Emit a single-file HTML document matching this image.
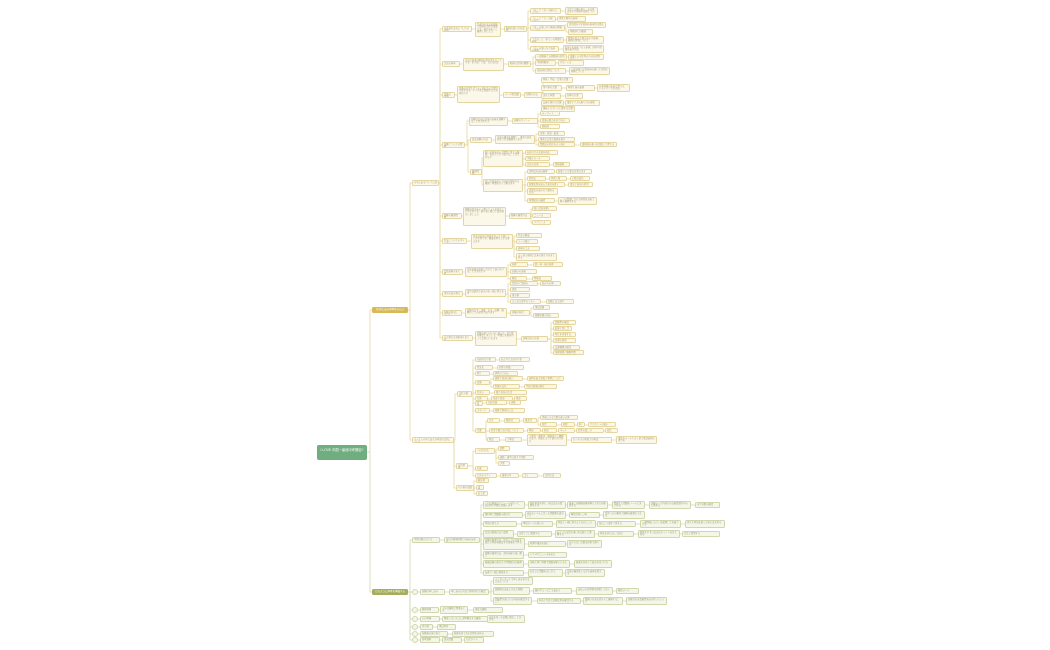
<!DOCTYPE html>
<html><head><meta charset="utf-8">
<style>
html,body{margin:0;padding:0;background:#fff;}
#w{position:relative;width:1050px;height:650px;overflow:hidden;background:#fff;font-family:"Liberation Sans","Noto Sans CJK JP",sans-serif;}
#w svg{position:absolute;left:0;top:0;}
.n{position:absolute;box-sizing:border-box;border:1px solid #e4d69e;background:#fbf8ea;border-radius:1.5px;font-size:2.3px;line-height:2.6px;color:#a49a78;overflow:hidden;padding:0.6px 1px;white-space:normal;word-break:break-all;}
.g{border-color:#d0d8ab;background:#f4f6ea;color:#98a078;}
.c{position:absolute;box-sizing:border-box;width:6px;height:6px;border:1px solid #d0d8ab;background:#f4f6ea;border-radius:50%;}
.root{position:absolute;left:317px;top:445px;width:50px;height:15px;background:#70ad7f;border-radius:2px;color:#fff;font-size:3.3px;line-height:4px;text-align:center;padding-top:3px;box-sizing:border-box;}
.b1{position:absolute;left:372px;top:307px;width:36px;height:6px;background:#d8b95a;border-radius:1.5px;color:#fff;font-size:2.5px;line-height:6px;text-align:center;}
.b2{position:absolute;left:372px;top:589px;width:36px;height:6px;background:#a6ad5f;border-radius:1.5px;color:#fff;font-size:2.5px;line-height:6px;text-align:center;}
</style></head><body><div id="w">
<svg id="s" width="1050" height="650"></svg>
<div class="root">I LOVE 中国一最适中考题目?</div>
<div class="b1">Iの中にある中考をみたい</div>
<div class="b2">どのように中考を準備する</div>

<!-- yellow -->
<div class="n" style="left:412px;top:180px;width:27px;height:6px">の中にあるベトナム語</div>
<div class="n" style="left:412px;top:437px;width:42px;height:6px">ベトナムの中にある日本語の文化について</div>
<div class="n" style="left:442px;top:26px;width:30px;height:6px">日本語の文法についての説明</div>
<div class="n" style="left:442px;top:61px;width:18px;height:6px">文法の基本</div>
<div class="n" style="left:442px;top:92px;width:13px;height:6px">語彙の説明</div>
<div class="n" style="left:442px;top:142px;width:23px;height:6px">読解についての問題</div>
<div class="n" style="left:442px;top:213px;width:20px;height:6px">聴解の練習問題</div>
<div class="n" style="left:442px;top:238px;width:25px;height:6px">作文についてのポイント</div>
<div class="n" style="left:442px;top:269px;width:21px;height:6px">会話表現のまとめ</div>
<div class="n" style="left:442px;top:291px;width:21px;height:6px">漢字の読み書き</div>
<div class="n" style="left:442px;top:310px;width:20px;height:6px">試験の形式について</div>
<div class="n" style="left:442px;top:335px;width:31px;height:6px">その他の注意事項とまとめ</div>

<div class="n" style="left:475px;top:22px;width:26px;height:15px">日本語の文法は助詞と動詞の活用が重要です。例文を使って練習しましょう</div>
<div class="n" style="left:504px;top:26px;width:23px;height:6px">助詞の使い方の説明</div>
<div class="n" style="left:530px;top:8px;width:31px;height:6px">「は」と「が」の違いについて</div>
<div class="n" style="left:530px;top:16px;width:26px;height:6px">「に」と「で」の使い分け</div>
<div class="n" style="left:530px;top:25px;width:35px;height:6px">「を」の使い方と動詞の関係について</div>
<div class="n" style="left:530px;top:37px;width:34px;height:6px">「から」と「まで」の時間の表現</div>
<div class="n" style="left:530px;top:46px;width:29px;height:6px">「の」の使い方と名詞の修飾</div>
<div class="n" style="left:565px;top:7px;width:33px;height:8px">主語と主題の違い、文の焦点を示す助詞の役割について</div>
<div class="n" style="left:557px;top:16px;width:29px;height:6px">場所と動作の表現</div>
<div class="n" style="left:567px;top:22px;width:39px;height:6px">目的語を示す助詞の基本的な用法</div>
<div class="n" style="left:568px;top:29px;width:25px;height:6px">他動詞と自動詞</div>
<div class="n" style="left:566px;top:36px;width:38px;height:8px">時間の起点と終点を示す表現、範囲の説明について</div>
<div class="n" style="left:563px;top:45px;width:41px;height:8px">名詞と名詞をつなぐ表現、所有や所属を表す用法</div>

<div class="n" style="left:463px;top:58px;width:41px;height:13px">文法の基本は動詞の形を覚えることです。ます形、て形、ない形など</div>
<div class="n" style="left:508px;top:61px;width:23px;height:6px">動詞の活用の種類</div>
<div class="n" style="left:535px;top:54px;width:32px;height:6px">一段動詞と五段動詞の区別</div>
<div class="n" style="left:535px;top:60px;width:21px;height:6px">不規則動詞</div>
<div class="n" style="left:535px;top:68px;width:31px;height:6px">形容詞の活用について</div>
<div class="n" style="left:568px;top:54px;width:36px;height:6px">語尾による区別の方法を説明する</div>
<div class="n" style="left:558px;top:60px;width:26px;height:6px">する・くる</div>
<div class="n" style="left:569px;top:67px;width:41px;height:8px">い形容詞とな形容詞の違いと活用の規則について</div>

<div class="n" style="left:457px;top:86px;width:43px;height:17px">語彙は日常生活でよく使われる言葉から覚えます。テーマ別に整理すると効率的です</div>
<div class="n" style="left:503px;top:92px;width:18px;height:6px">テーマ別語彙</div>
<div class="n" style="left:524px;top:92px;width:19px;height:6px">分類の方法</div>
<div class="n" style="left:541px;top:77px;width:32px;height:6px">家族・学校・仕事の言葉</div>
<div class="n" style="left:541px;top:85px;width:21px;height:6px">食べ物の言葉</div>
<div class="n" style="left:541px;top:93px;width:20px;height:6px">天気と季節</div>
<div class="n" style="left:541px;top:100px;width:23px;height:6px">交通と旅行の言葉</div>
<div class="n" style="left:541px;top:106px;width:34px;height:6px">趣味とスポーツに関する言葉</div>
<div class="n" style="left:566px;top:85px;width:29px;height:6px">料理と味の表現</div>
<div class="n" style="left:597px;top:84px;width:33px;height:8px">日本料理の名前と食べ方、レストランでの会話</div>
<div class="n" style="left:565px;top:93px;width:18px;height:6px">四季の行事</div>
<div class="n" style="left:565px;top:100px;width:35px;height:6px">電車とバスの乗り方の表現</div>

<div class="n" style="left:469px;top:117px;width:39px;height:9px">読解は文章の全体の意味を理解することが大切です</div>
<div class="n" style="left:470px;top:137px;width:22px;height:6px">長文読解の方法</div>
<div class="n" style="left:470px;top:169px;width:12px;height:6px">練習問題</div>
<div class="n" style="left:512px;top:118px;width:26px;height:6px">読解のポイント</div>
<div class="n" style="left:540px;top:111px;width:20px;height:5px">キーワード</div>
<div class="n" style="left:540px;top:118px;width:30px;height:5px">段落の要点をまとめる</div>
<div class="n" style="left:540px;top:124px;width:20px;height:5px">接続詞</div>
<div class="n" style="left:495px;top:135px;width:40px;height:9px">文章の構成を理解し、筆者の意見を見つける練習をします</div>
<div class="n" style="left:538px;top:131px;width:27px;height:5px">序論・本論・結論</div>
<div class="n" style="left:538px;top:137px;width:37px;height:5px">筆者の主張と根拠を探す</div>
<div class="n" style="left:538px;top:142px;width:37px;height:5px">問題文の指示をよく読む</div>
<div class="n" style="left:580px;top:142px;width:37px;height:5px">選択肢の違いを比較して考える</div>
<div class="n" style="left:483px;top:150px;width:40px;height:17px">短い文章を読んで質問に答える練習。毎日少しずつ続けることが大切です</div>
<div class="n" style="left:483px;top:179px;width:40px;height:13px">長い文章を読んで内容を要約する練習。時間を計って解きます</div>
<div class="n" style="left:525px;top:150px;width:33px;height:5px">お知らせの文章を読む</div>
<div class="n" style="left:525px;top:156px;width:25px;height:5px">手紙とメール</div>
<div class="n" style="left:525px;top:162px;width:25px;height:5px">広告の文章</div>
<div class="n" style="left:553px;top:162px;width:17px;height:5px">情報検索</div>
<div class="n" style="left:527px;top:169px;width:28px;height:5px">説明文を読む練習</div>
<div class="n" style="left:527px;top:176px;width:19px;height:5px">物語文</div>
<div class="n" style="left:527px;top:182px;width:38px;height:5px">新聞記事を読んで意見を書く</div>
<div class="n" style="left:527px;top:188px;width:31px;height:7px">評論文の読み方と要約の方法</div>
<div class="n" style="left:527px;top:198px;width:28px;height:5px">時間配分の練習</div>
<div class="n" style="left:556px;top:169px;width:36px;height:5px">段落ごとの要点を書き出す</div>
<div class="n" style="left:549px;top:176px;width:18px;height:5px">登場人物</div>
<div class="n" style="left:570px;top:176px;width:20px;height:5px">心情の変化</div>
<div class="n" style="left:568px;top:182px;width:25px;height:5px">事実と意見の区別</div>
<div class="n" style="left:558px;top:197px;width:39px;height:8px">一つの問題にかける時間を決めて解く練習をする</div>

<div class="n" style="left:463px;top:207px;width:43px;height:19px">聴解は音声をよく聞いてメモを取ることが大切です。繰り返し聞いて耳を慣らしましょう</div>
<div class="n" style="left:509px;top:213px;width:22px;height:6px">聴解の練習方法</div>
<div class="n" style="left:532px;top:206px;width:25px;height:5px">短い会話を聞く</div>
<div class="n" style="left:532px;top:213px;width:19px;height:5px">ニュース</div>
<div class="n" style="left:532px;top:220px;width:19px;height:5px">アナウンス</div>

<div class="n" style="left:471px;top:234px;width:42px;height:15px">作文は自分の意見をはっきり書くことが大切です。構成を考えてから書きます</div>
<div class="n" style="left:516px;top:233px;width:26px;height:5px">作文の構成</div>
<div class="n" style="left:516px;top:239px;width:22px;height:5px">テーマ選び</div>
<div class="n" style="left:516px;top:246px;width:24px;height:5px">表現の工夫</div>
<div class="n" style="left:516px;top:253px;width:41px;height:8px">よく使う表現と文末の書き方をまとめる</div>

<div class="n" style="left:465px;top:267px;width:42px;height:10px">会話表現は場面に合わせて使い分けることが大切です</div>
<div class="n" style="left:510px;top:262px;width:18px;height:5px">挨拶</div>
<div class="n" style="left:510px;top:269px;width:27px;height:5px">お願いの表現</div>
<div class="n" style="left:510px;top:276px;width:17px;height:5px">敬語</div>
<div class="n" style="left:533px;top:262px;width:30px;height:5px">朝・昼・夜の挨拶</div>
<div class="n" style="left:532px;top:276px;width:20px;height:5px">尊敬語</div>

<div class="n" style="left:465px;top:289px;width:41px;height:8px">漢字は部首と読み方を一緒に覚えます</div>
<div class="n" style="left:510px;top:281px;width:28px;height:5px">音読みと訓読み</div>
<div class="n" style="left:510px;top:287px;width:20px;height:5px">部首</div>
<div class="n" style="left:510px;top:293px;width:20px;height:5px">書き順</div>
<div class="n" style="left:510px;top:299px;width:31px;height:5px">よく出る漢字のリスト</div>
<div class="n" style="left:540px;top:281px;width:21px;height:5px">読み方の例</div>
<div class="n" style="left:546px;top:299px;width:28px;height:5px">試験に出る漢字</div>

<div class="n" style="left:465px;top:308px;width:42px;height:10px">試験は文字・語彙、文法・読解、聴解の三つの部分があります</div>
<div class="n" style="left:510px;top:310px;width:20px;height:6px">試験の科目</div>
<div class="n" style="left:533px;top:305px;width:17px;height:5px">筆記試験</div>
<div class="n" style="left:533px;top:313px;width:26px;height:5px">聴解試験の流れ</div>

<div class="n" style="left:475px;top:331px;width:42px;height:15px">試験の前には十分に休んで、持ち物を確認しましょう。時間に余裕を持って会場に行きます</div>
<div class="n" style="left:521px;top:336px;width:27px;height:6px">試験当日の注意</div>
<div class="n" style="left:553px;top:320px;width:23px;height:5px">受験票の確認</div>
<div class="n" style="left:553px;top:326px;width:19px;height:5px">鉛筆と消しゴム</div>
<div class="n" style="left:553px;top:332px;width:23px;height:5px">時計を持参する</div>
<div class="n" style="left:553px;top:338px;width:23px;height:5px">会場の場所</div>
<div class="n" style="left:553px;top:345px;width:27px;height:5px">交通機関の確認</div>
<div class="n" style="left:553px;top:350px;width:31px;height:5px">体調管理と睡眠時間</div>

<div class="n" style="left:457px;top:391px;width:15px;height:6px">文化の紹介</div>
<div class="n" style="left:456px;top:463px;width:12px;height:6px">生活習慣</div>
<div class="n" style="left:456px;top:485px;width:18px;height:6px">その他の話題</div>
<div class="n" style="left:475px;top:357px;width:21px;height:5px">伝統的な行事</div>
<div class="n" style="left:475px;top:365px;width:18px;height:5px">食文化</div>
<div class="n" style="left:475px;top:371px;width:15px;height:5px">祭り</div>
<div class="n" style="left:475px;top:380px;width:15px;height:5px">衣服</div>
<div class="n" style="left:475px;top:390px;width:15px;height:5px">住まい</div>
<div class="n" style="left:475px;top:396px;width:13px;height:5px">芸術</div>
<div class="n" style="left:475px;top:401px;width:8px;height:5px">音楽</div>
<div class="n" style="left:475px;top:408px;width:15px;height:5px">スポーツ</div>
<div class="n" style="left:475px;top:428px;width:11px;height:5px">言葉</div>
<div class="n" style="left:499px;top:357px;width:31px;height:5px">お正月とお盆の行事</div>
<div class="n" style="left:497px;top:365px;width:27px;height:5px">和食の特徴</div>
<div class="n" style="left:493px;top:371px;width:25px;height:5px">夏祭りと花火</div>
<div class="n" style="left:493px;top:376px;width:30px;height:5px">着物と浴衣の違い</div>
<div class="n" style="left:493px;top:384px;width:27px;height:5px">制服の文化</div>
<div class="n" style="left:527px;top:376px;width:37px;height:5px">着物を着る場面と季節について</div>
<div class="n" style="left:524px;top:384px;width:33px;height:5px">学校の制服の歴史</div>
<div class="n" style="left:494px;top:390px;width:33px;height:5px">畳と和室の生活</div>
<div class="n" style="left:491px;top:396px;width:22px;height:5px">茶道と華道</div>
<div class="n" style="left:514px;top:396px;width:13px;height:5px">書道</div>
<div class="n" style="left:486px;top:400px;width:21px;height:5px">伝統音楽</div>
<div class="n" style="left:509px;top:400px;width:12px;height:5px">演歌</div>
<div class="n" style="left:493px;top:408px;width:32px;height:5px">相撲と野球の人気</div>
<div class="n" style="left:487px;top:418px;width:13px;height:5px">方言</div>
<div class="n" style="left:489px;top:428px;width:35px;height:5px">若者言葉と流行語について</div>
<div class="n" style="left:487px;top:437px;width:13px;height:5px">敬語</div>
<div class="n" style="left:504px;top:418px;width:16px;height:5px">関西弁</div>
<div class="n" style="left:523px;top:418px;width:14px;height:5px">東北弁</div>
<div class="n" style="left:540px;top:415px;width:38px;height:5px">地域による言葉の違いの例</div>
<div class="n" style="left:540px;top:422px;width:17px;height:5px">発音</div>
<div class="n" style="left:561px;top:422px;width:14px;height:5px">抑揚</div>
<div class="n" style="left:577px;top:422px;width:8px;height:5px">例</div>
<div class="n" style="left:588px;top:422px;width:28px;height:5px">アクセントの違い</div>
<div class="n" style="left:527px;top:428px;width:14px;height:5px">略語</div>
<div class="n" style="left:542px;top:428px;width:15px;height:5px">新語</div>
<div class="n" style="left:558px;top:428px;width:17px;height:5px">ネット</div>
<div class="n" style="left:576px;top:428px;width:28px;height:5px">若者の話し方</div>
<div class="n" style="left:605px;top:428px;width:13px;height:5px">変化</div>
<div class="n" style="left:505px;top:437px;width:17px;height:5px">丁寧語</div>
<div class="n" style="left:527px;top:434px;width:40px;height:12px">丁寧語・尊敬語・謙譲語の三種類があり、場面によって使い分けます</div>
<div class="n" style="left:571px;top:437px;width:41px;height:6px">ビジネスの場面での敬語</div>
<div class="n" style="left:616px;top:436px;width:41px;height:8px">電話やメールでよく使う敬語表現のまとめ</div>
<div class="n" style="left:475px;top:448px;width:20px;height:6px">一日の生活</div>
<div class="n" style="left:475px;top:466px;width:13px;height:5px">礼儀</div>
<div class="n" style="left:475px;top:473px;width:22px;height:5px">公共のマナー</div>
<div class="n" style="left:498px;top:446px;width:12px;height:5px">朝食</div>
<div class="n" style="left:498px;top:455px;width:36px;height:5px">通勤・通学の様子と時間</div>
<div class="n" style="left:498px;top:461px;width:12px;height:5px">夕食</div>
<div class="n" style="left:500px;top:473px;width:19px;height:5px">電車の中</div>
<div class="n" style="left:522px;top:473px;width:16px;height:5px">ゴミ</div>
<div class="n" style="left:543px;top:473px;width:18px;height:5px">分別方法</div>
<div class="n" style="left:476px;top:478px;width:13px;height:5px">観光地</div>
<div class="n" style="left:476px;top:485px;width:8px;height:5px">温泉</div>
<div class="n" style="left:476px;top:491px;width:12px;height:5px">お土産</div>

<!-- green -->
<div class="n g" style="left:412px;top:537px;width:28px;height:6px">学習計画の立て方</div>
<div class="n g" style="left:444px;top:537px;width:36px;height:6px">毎日の勉強時間と内容の決め方</div>
<div class="n g" style="left:483px;top:501px;width:42px;height:8px">一日の勉強スケジュールを作って、毎日同じ時間に勉強します</div>
<div class="n g" style="left:528px;top:501px;width:38px;height:8px">朝は単語を覚え、夜は文法の復習をする</div>
<div class="n g" style="left:567px;top:501px;width:41px;height:8px">週末には模擬試験を解いて実力を確認する</div>
<div class="n g" style="left:612px;top:501px;width:33px;height:8px">間違えた問題をノートにまとめる</div>
<div class="n g" style="left:649px;top:501px;width:42px;height:8px">試験の一か月前からは総復習を中心に進める</div>
<div class="n g" style="left:695px;top:502px;width:25px;height:6px">苦手分野の確認</div>
<div class="n g" style="left:483px;top:512px;width:40px;height:6px">教科書と問題集の選び方</div>
<div class="n g" style="left:525px;top:511px;width:41px;height:8px">自分のレベルに合った問題集を選ぶこと</div>
<div class="n g" style="left:569px;top:512px;width:31px;height:6px">解説が詳しい本</div>
<div class="n g" style="left:603px;top:511px;width:42px;height:8px">音声つきの教材で聴解の練習もできる</div>
<div class="n g" style="left:483px;top:521px;width:34px;height:6px">単語の覚え方</div>
<div class="n g" style="left:521px;top:521px;width:32px;height:6px">単語カードの使い方</div>
<div class="n g" style="left:556px;top:520px;width:40px;height:8px">例文と一緒に覚えると忘れにくい</div>
<div class="n g" style="left:597px;top:521px;width:39px;height:6px">毎日二十個ずつ覚える</div>
<div class="n g" style="left:640px;top:520px;width:41px;height:8px">一週間後にもう一度復習して定着させる</div>
<div class="n g" style="left:685px;top:520px;width:40px;height:8px">覚えた単語を使って短い文を作る</div>
<div class="n g" style="left:483px;top:530px;width:31px;height:8px">文法の勉強方法と復習</div>
<div class="n g" style="left:517px;top:531px;width:35px;height:6px">文型ごとに整理する</div>
<div class="n g" style="left:555px;top:530px;width:40px;height:8px">似ている文型の違いを比較して理解する</div>
<div class="n g" style="left:598px;top:531px;width:36px;height:6px">例文を声に出して読む</div>
<div class="n g" style="left:638px;top:530px;width:42px;height:8px">間違えやすい文法のポイントをまとめる</div>
<div class="n g" style="left:682px;top:531px;width:38px;height:6px">先生に質問する</div>
<div class="n g" style="left:483px;top:538px;width:42px;height:12px">読解の練習方法、毎日一つの文章を読んで内容を確認する習慣をつける</div>
<div class="n g" style="left:528px;top:541px;width:38px;height:6px">新聞や雑誌を読む</div>
<div class="n g" style="left:567px;top:540px;width:35px;height:8px">分からない言葉は辞書で調べる</div>
<div class="n g" style="left:483px;top:551px;width:41px;height:8px">聴解の練習方法、音声を繰り返し聞く</div>
<div class="n g" style="left:528px;top:552px;width:39px;height:6px">ドラマやニュースを見る</div>
<div class="n g" style="left:483px;top:560px;width:41px;height:8px">模擬試験の受け方と時間配分の練習</div>
<div class="n g" style="left:528px;top:560px;width:42px;height:8px">本番と同じ時間で問題を解いてみる</div>
<div class="n g" style="left:574px;top:560px;width:38px;height:8px">結果を分析して弱点を見つける</div>
<div class="n g" style="left:483px;top:570px;width:41px;height:6px">友達と一緒に勉強する</div>
<div class="n g" style="left:528px;top:569px;width:35px;height:8px">お互いに問題を出し合う</div>
<div class="n g" style="left:565px;top:569px;width:40px;height:8px">会話の練習をしながら表現を覚える</div>

<div class="c" style="left:412px;top:589px"></div>
<div class="c" style="left:412px;top:607px"></div>
<div class="c" style="left:412px;top:616px"></div>
<div class="c" style="left:412px;top:624px"></div>
<div class="c" style="left:412px;top:631px"></div>
<div class="c" style="left:412px;top:637px"></div>
<div class="n g" style="left:420px;top:589px;width:25px;height:6px">試験の申し込み</div>
<div class="n g" style="left:449px;top:589px;width:40px;height:6px">申し込みの方法と締め切りの確認</div>
<div class="n g" style="left:493px;top:577px;width:40px;height:8px">インターネットで申し込みをする方法について</div>
<div class="n g" style="left:493px;top:587px;width:37px;height:8px">受験料の支払い方法と期限</div>
<div class="n g" style="left:493px;top:597px;width:39px;height:8px">受験票が届いたら内容を確認すること</div>
<div class="n g" style="left:533px;top:588px;width:39px;height:6px">銀行やコンビニで支払う</div>
<div class="n g" style="left:576px;top:587px;width:37px;height:8px">支払いの証明書を保管しておく</div>
<div class="n g" style="left:616px;top:588px;width:23px;height:6px">確認メール</div>
<div class="n g" style="left:537px;top:598px;width:44px;height:6px">名前と写真と試験会場を確認する</div>
<div class="n g" style="left:583px;top:597px;width:40px;height:8px">間違いがあればすぐに連絡すること</div>
<div class="n g" style="left:626px;top:597px;width:41px;height:8px">試験当日は受験票を必ず持っていく</div>
<div class="n g" style="left:420px;top:607px;width:19px;height:6px">健康管理</div>
<div class="n g" style="left:440px;top:606px;width:28px;height:8px">十分な睡眠と食事をとる</div>
<div class="n g" style="left:473px;top:607px;width:30px;height:6px">適度な運動</div>
<div class="n g" style="left:420px;top:616px;width:20px;height:6px">心の準備</div>
<div class="n g" style="left:442px;top:616px;width:46px;height:6px">緊張しないように深呼吸をする練習</div>
<div class="n g" style="left:487px;top:615px;width:38px;height:8px">自信を持って試験に臨むことが大切</div>
<div class="n g" style="left:420px;top:624px;width:13px;height:6px">持ち物</div>
<div class="n g" style="left:437px;top:624px;width:19px;height:6px">筆記用具</div>
<div class="n g" style="left:420px;top:631px;width:28px;height:6px">試験後の振り返り</div>
<div class="n g" style="left:452px;top:631px;width:42px;height:6px">結果を見て次の目標を決める</div>
<div class="n g" style="left:420px;top:637px;width:20px;height:6px">参考資料</div>
<div class="n g" style="left:442px;top:637px;width:20px;height:6px">過去問題</div>
<div class="n g" style="left:464px;top:637px;width:20px;height:6px">公式サイト</div>

<script>
var Y=[[367,452,372,310],[408,310,412,183],[408,310,412,440],
[439,183,442,29],[439,183,442,64],[439,183,442,95],[439,183,442,145],[439,183,442,216],[439,183,442,241],[439,183,442,272],[439,183,442,294],[439,183,442,313],[439,183,442,338],
[472,29,475,29],[501,29,504,29],[527,29,530,11],[527,29,530,19],[527,29,530,28],[527,29,530,40],[527,29,530,49],
[561,11,565,11],[556,19,557,19],[565,28,567,25],[565,28,568,32],[564,40,566,40],[559,49,563,49],
[460,64,463,64],[504,64,508,64],[531,64,535,57],[531,64,535,63],[531,64,535,71],[567,57,568,57],[556,63,558,63],[566,71,569,71],
[455,95,457,95],[500,95,503,95],[521,95,524,95],[543,95,541,80],[543,95,541,88],[543,95,541,96],[543,95,541,103],[543,95,541,109],
[562,88,566,88],[595,88,597,88],[561,96,565,96],[564,103,565,103],
[465,145,469,121],[465,145,470,140],[465,145,470,172],[508,121,512,121],[538,121,540,114],[538,121,540,121],[538,121,540,127],
[492,140,495,140],[535,140,538,134],[535,140,538,140],[535,140,538,145],[575,145,580,145],
[482,172,483,158],[482,172,483,185],[523,158,525,153],[523,158,525,159],[523,158,525,165],[550,165,553,165],
[523,185,527,172],[523,185,527,179],[523,185,527,185],[523,185,527,191],[523,185,527,201],
[555,172,556,172],[546,179,549,179],[567,179,570,179],[565,185,568,185],[555,201,558,201],
[462,216,463,216],[506,216,509,216],[531,216,532,209],[531,216,532,216],[531,216,532,223],
[467,241,471,241],[513,241,516,236],[513,241,516,242],[513,241,516,249],[513,241,516,257],
[463,272,465,272],[507,272,510,265],[507,272,510,272],[507,272,510,279],[528,265,533,265],[527,279,532,279],
[463,294,465,294],[506,294,510,284],[506,294,510,290],[506,294,510,296],[506,294,510,302],[538,284,540,284],[541,302,546,302],
[462,313,465,313],[507,313,510,313],[530,313,533,308],[530,313,533,316],
[473,338,475,338],[517,339,521,339],[548,339,553,323],[548,339,553,329],[548,339,553,335],[548,339,553,341],[548,339,553,348],[548,339,553,353],
[454,440,457,394],[454,440,456,466],[454,440,456,488],
[472,394,475,360],[472,394,475,368],[472,394,475,374],[472,394,475,383],[472,394,475,393],[472,394,475,399],[472,394,475,403],[472,394,475,411],[472,394,475,431],
[496,360,499,360],[493,368,497,368],[490,374,493,374],[490,383,493,379],[490,383,493,387],[523,379,527,379],[520,387,524,387],[490,393,494,393],[488,399,491,399],[513,399,514,399],[483,403,486,403],[507,403,509,403],[490,411,493,411],
[486,431,487,421],[486,431,489,431],[486,431,487,440],[500,421,504,421],[520,421,523,421],[537,421,540,418],[537,421,540,425],[557,425,561,425],[575,425,577,425],[585,425,588,425],
[524,431,527,431],[541,431,542,431],[557,431,558,431],[575,431,576,431],[604,431,605,431],
[500,440,505,440],[522,440,527,440],[567,440,571,440],[612,440,616,440],
[468,466,475,451],[468,466,475,469],[468,466,475,476],[495,451,498,449],[495,451,498,458],[495,451,498,463],[497,476,500,476],[519,476,522,476],[538,476,543,476],
[474,488,476,481],[474,488,476,488],[474,488,476,494]];
var G=[[367,452,372,592],[408,592,412,540],[408,592,412,592],[408,592,412,610],[408,592,412,619],[408,592,412,627],[408,592,412,634],[408,592,412,640],
[440,540,444,540],[480,540,483,505],[480,540,483,515],[480,540,483,524],[480,540,483,534],[480,540,483,544],[480,540,483,555],[480,540,483,564],[480,540,483,573],
[525,505,528,505],[566,505,567,505],[608,505,612,505],[645,505,649,505],[691,505,695,505],
[523,515,525,515],[566,515,569,515],[600,515,603,515],
[517,524,521,524],[553,524,556,524],[596,524,597,524],[636,524,640,524],[681,524,685,524],
[514,534,517,534],[552,534,555,534],[595,534,598,534],[634,534,638,534],[680,534,682,534],
[525,544,528,544],[566,544,567,544],[524,555,528,555],[524,564,528,564],[570,564,574,564],[524,573,528,573],[563,573,565,573],
[418,592,420,592],[445,592,449,592],[489,592,493,581],[489,592,493,591],[489,592,493,601],[530,591,533,591],[572,591,576,591],[613,591,616,591],
[532,601,537,601],[581,601,583,601],[623,601,626,601],
[418,610,420,610],[439,610,440,610],[468,610,473,610],[418,619,420,619],[440,619,442,619],[488,619,487,619],[418,627,420,627],[433,627,437,627],[418,634,420,634],[448,634,452,634],[418,640,420,640],[440,640,442,640],[462,640,464,640]];
var s=document.getElementById('s'),h='';
function d(a,c){a.forEach(function(e){var xm=e[2]-2;if(xm<e[0])xm=e[0];if(e[1]==e[3])h+='<path d="M'+e[0]+' '+e[1]+'H'+e[2]+'" stroke="'+c+'" stroke-width="0.8" fill="none"/>';else h+='<path d="M'+e[0]+' '+e[1]+'H'+xm+'V'+e[3]+'H'+e[2]+'" stroke="'+c+'" stroke-width="0.8" fill="none"/>';});}
d(Y,'#e6d8a0');d(G,'#d2d9ae');
s.innerHTML=h;
</script>
</div></body></html>
